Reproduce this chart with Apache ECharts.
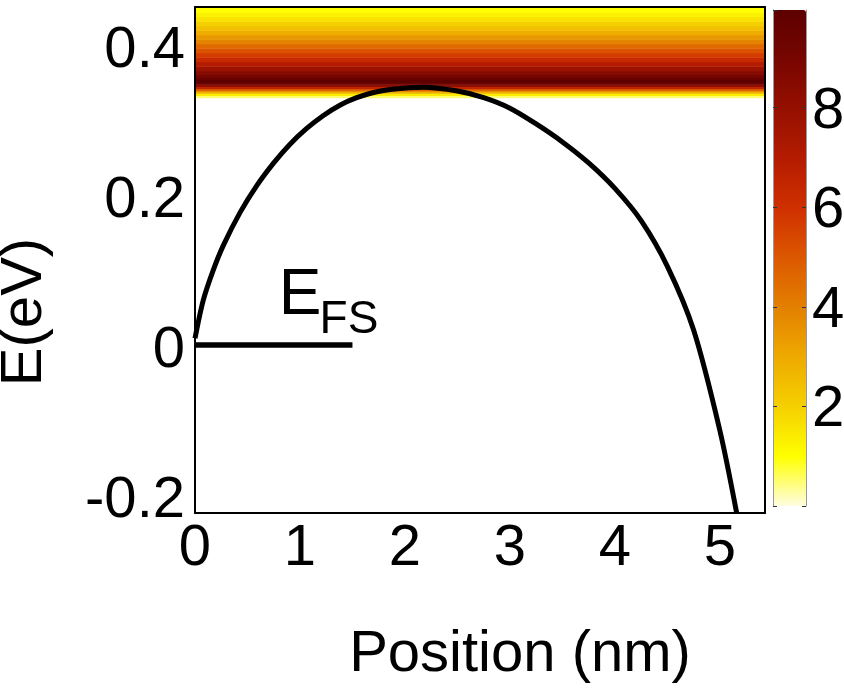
<!DOCTYPE html>
<html>
<head>
<meta charset="utf-8">
<title>E(eV) vs Position</title>
<script src="https://cdn.jsdelivr.net/npm/echarts@6.0.0/dist/echarts.min.js"></script>
<style>
  html, body { margin: 0; padding: 0; background: #fff; }
  #main { width: 844px; height: 691px; }
</style>
</head>
<body>
<div id="main"></div>
<script>
  // barrier profile (nm, eV)
  var posNm = [0, 0.079, 0.174, 0.27, 0.43, 0.59, 0.75, 0.905, 1.064, 1.22, 1.38, 1.54, 1.70, 1.857, 2.17,
    2.5, 2.75, 3.0, 3.25, 3.5, 3.75, 4.0, 4.25, 4.5, 4.75, 5.0, 5.16];
  var energyEv = [0.009, 0.06, 0.100, 0.133, 0.177, 0.213, 0.243, 0.268, 0.289, 0.306, 0.320, 0.330, 0.337, 0.341, 0.344,
    0.339, 0.330, 0.316, 0.295, 0.271, 0.243, 0.209, 0.166, 0.105, 0.020, -0.114, -0.224];

  // Fermi level segment
  var efsPos = [0, 1.5];
  var efsEnergy = [0, 0];

  // density band: row edges (eV) and values, uniform along position
  var bandEdges = [0.330, 0.333, 0.336, 0.339, 0.342, 0.345, 0.348, 0.351, 0.354, 0.357, 0.361, 0.366, 0.372,
    0.378, 0.384, 0.390, 0.396, 0.402, 0.408, 0.414, 0.420, 0.426, 0.432, 0.438, 0.444, 0.451];
  var bandValues = [0.5, 1.4, 2.8, 4.6, 6.5, 8.2, 9.5, 9.9, 9.6, 9.1, 8.5, 7.8, 7.0,
    6.3, 5.7, 5.1, 4.5, 3.9, 3.4, 2.9, 2.4, 2.0, 1.6, 1.3, 1.0];

  var xTicks = [0, 1, 2, 3, 4, 5];
  var yTicks = [-0.2, 0, 0.2, 0.4];
  var cbarMax = 9.96;
  var cbarColors = ['#fffde0', '#ffff00', '#f5d000', '#eeaa00', '#e38000', '#dc5800',
    '#d03000', '#b41c00', '#961000', '#780600', '#5c0000'];

  var font = 'Liberation Sans, Arial, Helvetica, sans-serif';

  var curveData = posNm.map(function (x, i) { return [x, energyEv[i]]; });
  var efsData = efsPos.map(function (x, i) { return [x, efsEnergy[i]]; });
  var bandData = bandValues.map(function (v, i) { return [bandEdges[i], bandEdges[i + 1], v]; });

  var blackLine = { show: true, onZero: false, lineStyle: { color: '#000', width: 2 } };
  var greyLine = { show: true, onZero: false, lineStyle: { color: '#999', width: 1 } };

  // labels sit a little below their ticks, as in the original
  var tickRich = {
    lo: { fontSize: 58, color: '#000', fontFamily: font, padding: [12, 0, 0, 0] },
    cb: { fontSize: 58, color: '#000', fontFamily: font, padding: [8, 0, 0, 0] }
  };

  var myChart = echarts.init(document.getElementById('main'));

  var option = {
    backgroundColor: '#fff',
    animation: false,
    textStyle: { fontFamily: font, color: '#000' },
    grid: [
      { left: 195, top: 7, width: 570, height: 506, outerBoundsMode: 'none', containLabel: false },
      { left: 773, top: 10, width: 33, height: 496, outerBoundsMode: 'none', containLabel: false }
    ],
    xAxis: [
      {
        type: 'value', gridIndex: 0, min: 0, max: 5.43, z: 5,
        axisLine: blackLine, axisTick: { show: false }, splitLine: { show: false },
        axisLabel: { customValues: xTicks, fontSize: 58, color: '#000', fontFamily: font, margin: 7 },
        name: 'Position (nm)', nameLocation: 'middle', nameGap: 113,
        nameTextStyle: { fontSize: 58, color: '#000', fontFamily: font, padding: [0, 0, 0, 80] }
      },
      {
        type: 'value', gridIndex: 0, position: 'top', min: 0, max: 5.43, z: 5,
        axisLine: blackLine, axisTick: { show: false }, axisLabel: { show: false }, splitLine: { show: false }
      },
      { type: 'value', gridIndex: 1, min: 0, max: 1, show: false }
    ],
    yAxis: [
      {
        type: 'value', gridIndex: 0, min: -0.224, max: 0.451, z: 5,
        axisLine: blackLine, axisTick: { show: false }, splitLine: { show: false },
        axisLabel: {
          customValues: yTicks, margin: 10, rich: tickRich,
          formatter: function (v) { return '{lo|' + v + '}'; }
        },
        name: 'E(eV)', nameLocation: 'middle', nameGap: 141, nameRotate: 90,
        nameTextStyle: { fontSize: 58, color: '#000', fontFamily: font, padding: [0, 104, 0, 0] }
      },
      {
        type: 'value', gridIndex: 0, position: 'right', min: -0.224, max: 0.451, z: 5,
        axisLine: blackLine, axisTick: { show: false }, axisLabel: { show: false }, splitLine: { show: false }
      },
      {
        type: 'value', gridIndex: 1, position: 'left', min: 0, max: cbarMax, interval: 2, z: 5,
        axisLine: greyLine,
        axisTick: { show: true, inside: true, length: 4, lineStyle: { color: '#333' } },
        axisLabel: { show: false }, splitLine: { show: false }
      },
      {
        type: 'value', gridIndex: 1, position: 'right', min: 0, max: cbarMax, interval: 2, z: 5,
        axisLine: greyLine,
        axisTick: { show: true, inside: true, length: 4, lineStyle: { color: '#333' } },
        axisLabel: {
          margin: 6, showMaxLabel: false, rich: tickRich,
          formatter: function (v) { return v === 0 ? '' : '{cb|' + v + '}'; }
        },
        splitLine: { show: false }
      }
    ],
    visualMap: {
      type: 'continuous', seriesIndex: 0, dimension: 2,
      min: 0, max: cbarMax, calculable: false, hoverLink: false,
      left: 773, top: 10, itemWidth: 33, itemHeight: 496, padding: 0,
      text: null,
      inRange: { color: cbarColors }
    },
    series: [
      {
        name: 'band', type: 'custom', xAxisIndex: 0, yAxisIndex: 0, z: 1, clip: true,
        data: bandData,
        renderItem: function (params, api) {
          var cs = params.coordSys;
          var top = api.coord([0, api.value(1)])[1];
          var bottom = api.coord([0, api.value(0)])[1];
          return {
            type: 'rect',
            shape: { x: cs.x, y: top, width: cs.width, height: bottom - top + 0.6 },
            style: { fill: api.visual('color') }
          };
        }
      },
      {
        name: 'E', type: 'line', xAxisIndex: 0, yAxisIndex: 0, z: 3,
        data: curveData, smooth: 0.3, showSymbol: false,
        lineStyle: { color: '#000', width: 5 }
      },
      {
        name: 'EFS', type: 'line', xAxisIndex: 0, yAxisIndex: 0, z: 3,
        data: efsData, showSymbol: false,
        lineStyle: { color: '#000', width: 5.5 },
        markPoint: {
          symbol: 'circle', symbolSize: 1, itemStyle: { color: 'rgba(0,0,0,0)' },
          data: [
            { coord: [1.0, 0.065], label: { show: true, position: 'inside', formatter: 'E', fontSize: 64, color: '#000', fontFamily: font } },
            { coord: [1.467, 0.033], label: { show: true, position: 'inside', formatter: 'FS', fontSize: 46, color: '#000', fontFamily: font } }
          ]
        }
      }
    ]
  };

  myChart.setOption(option, true);
</script>
</body>
</html>
